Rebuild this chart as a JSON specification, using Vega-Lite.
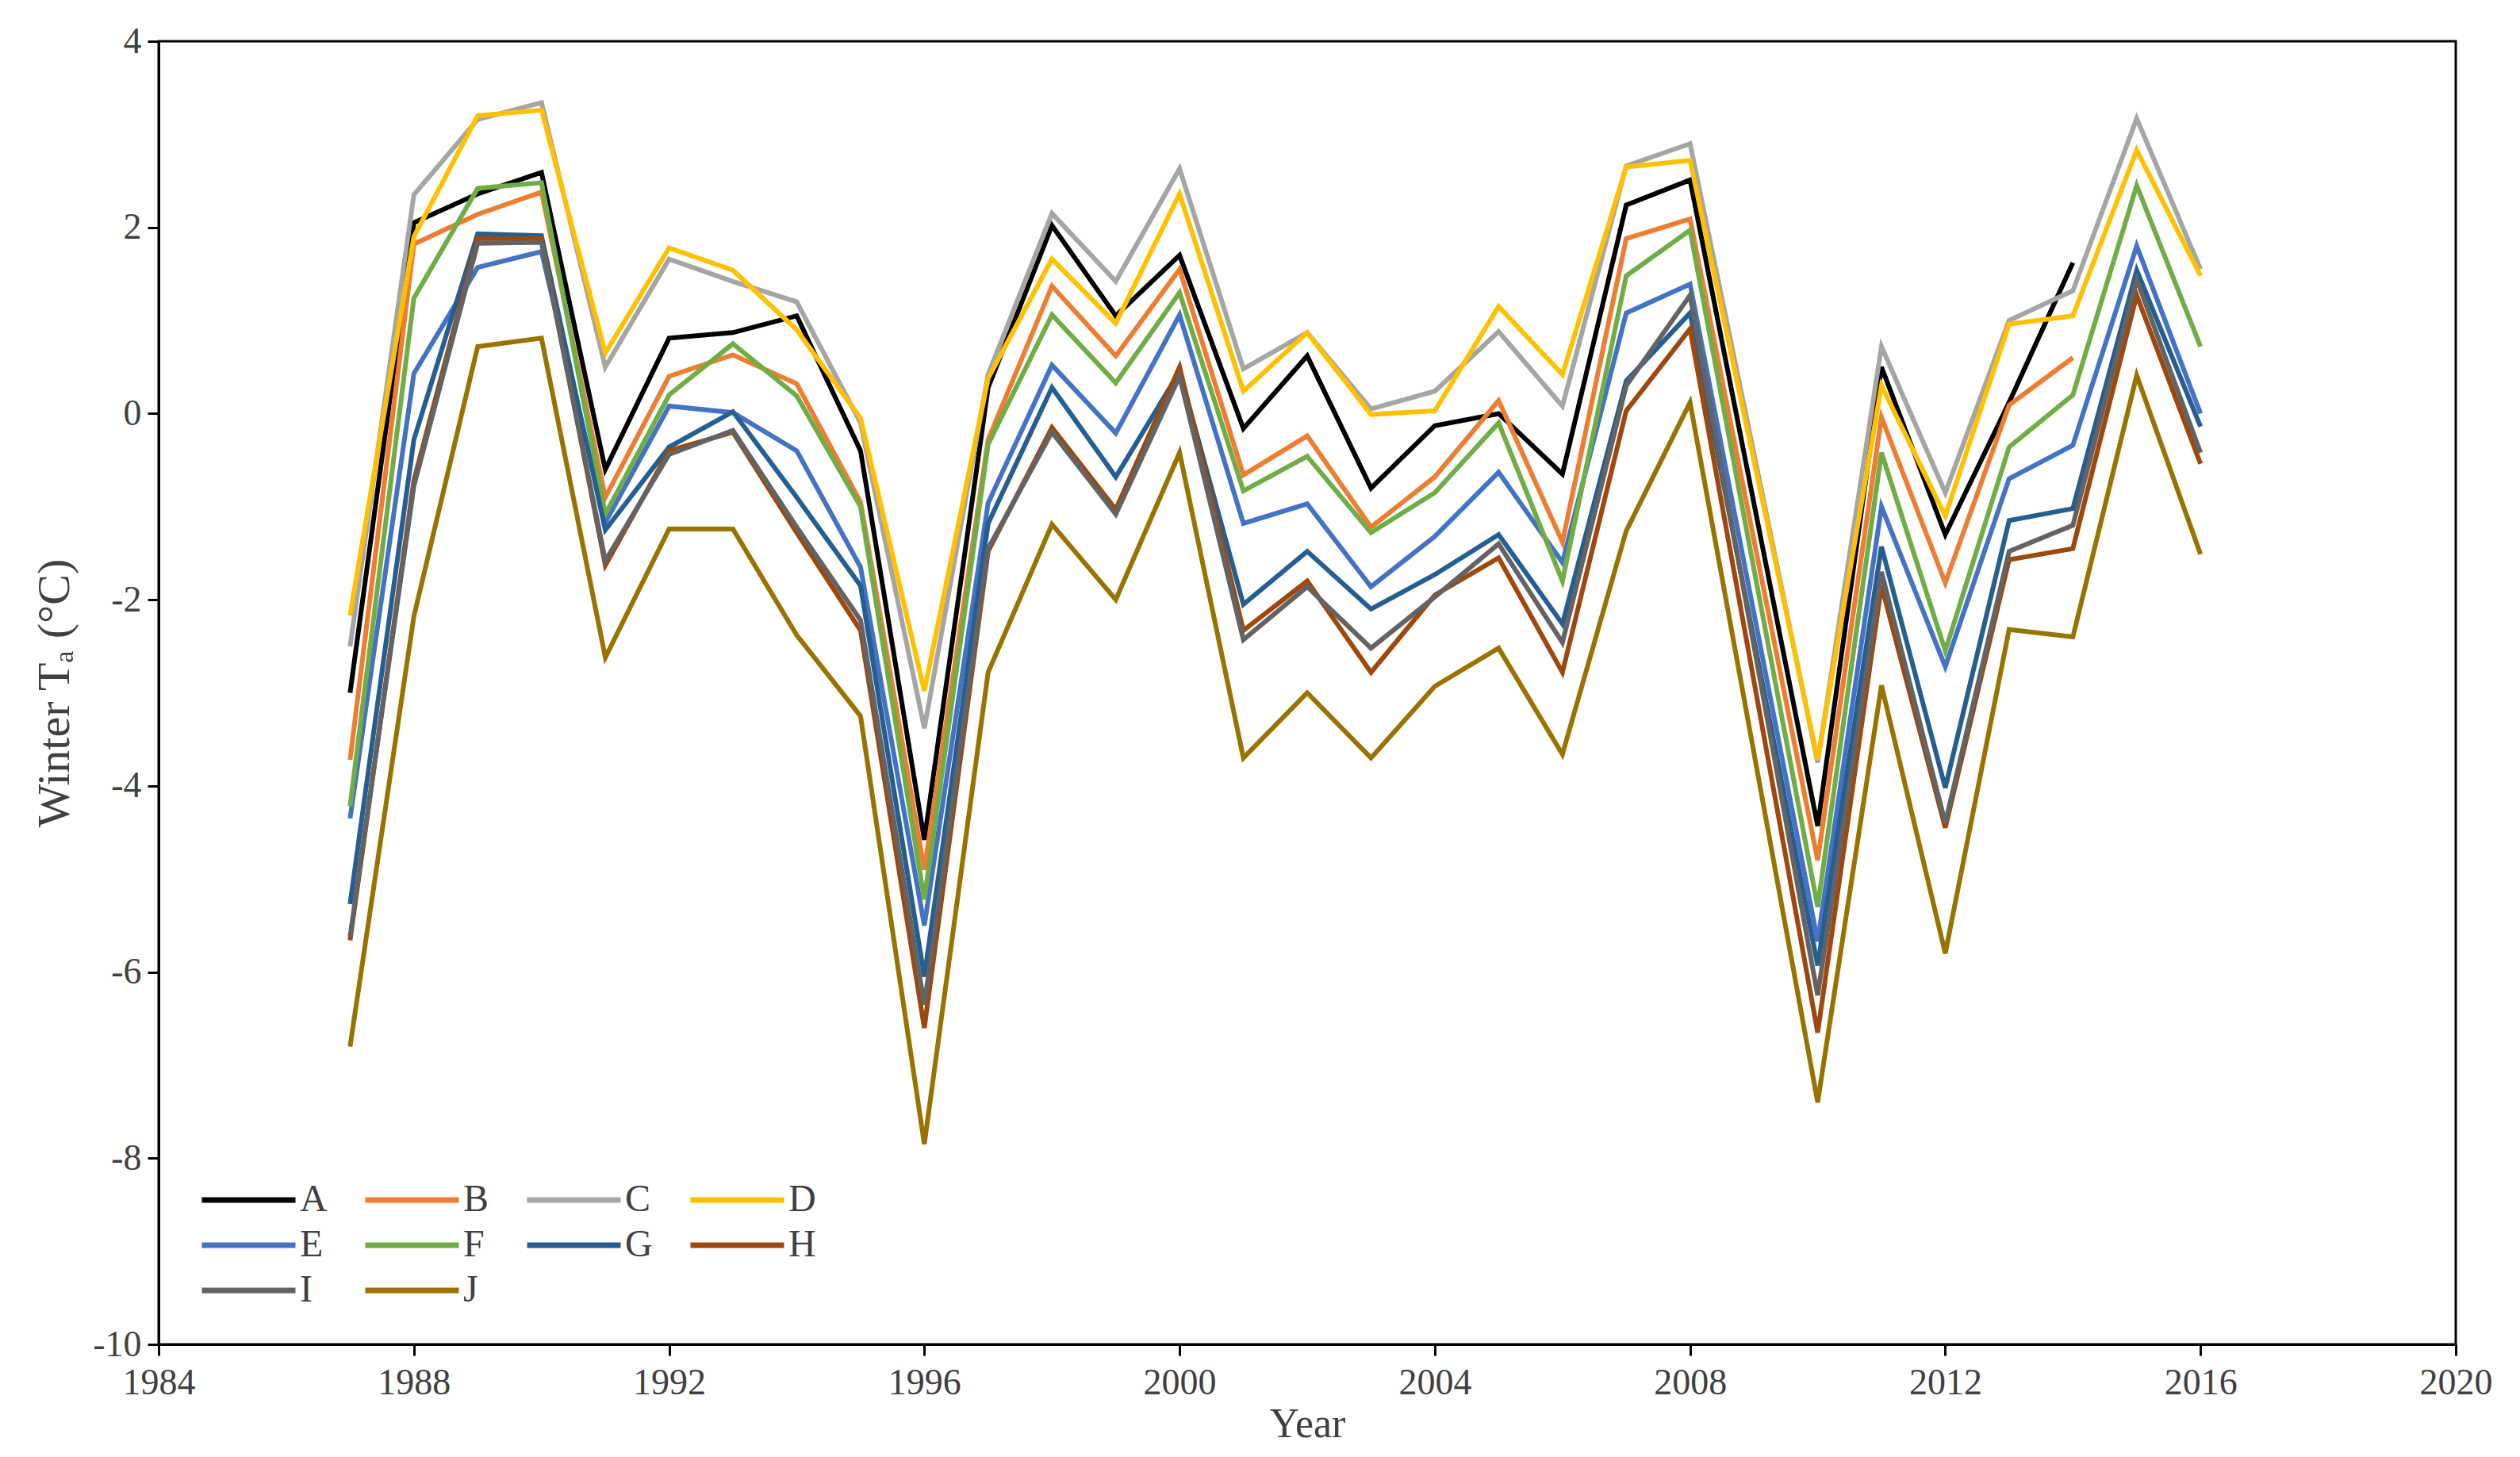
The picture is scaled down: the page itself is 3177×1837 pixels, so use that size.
{
  "$schema": "https://vega.github.io/schema/vega-lite/v6.json",
  "width": 2896,
  "height": 1643,
  "autosize": {"type": "none"},
  "padding": {"left": 200, "top": 52, "right": 81, "bottom": 142},
  "background": "white",
  "config": {
    "view": {"stroke": "black", "strokeWidth": 3},
    "font": "Liberation Serif",
    "axis": {
      "labelFont": "Liberation Serif",
      "titleFont": "Liberation Serif",
      "labelFontSize": 46,
      "titleFontSize": 52,
      "labelColor": "#404040",
      "titleColor": "#404040",
      "titleFontWeight": "normal",
      "domainColor": "black",
      "domainWidth": 3,
      "tickColor": "black",
      "tickWidth": 3,
      "tickSize": 14,
      "grid": false
    },
    "legend": {
      "labelFont": "Liberation Serif",
      "labelFontSize": 48,
      "labelColor": "#404040"
    }
  },
  "data": {
    "values": [
      {"Year": 1987, "A": -3.0, "B": -3.72, "C": -2.5, "D": -2.17, "E": -4.35, "F": -4.22, "G": -5.27, "H": -5.66, "I": -5.62, "J": -6.8},
      {"Year": 1988, "A": 2.05, "B": 1.82, "C": 2.35, "D": 1.9, "E": 0.43, "F": 1.24, "G": -0.28, "H": -0.72, "I": -0.78, "J": -2.18},
      {"Year": 1989, "A": 2.36, "B": 2.14, "C": 3.16, "D": 3.2, "E": 1.57, "F": 2.42, "G": 1.93, "H": 1.88, "I": 1.83, "J": 0.72},
      {"Year": 1990, "A": 2.59, "B": 2.38, "C": 3.34, "D": 3.26, "E": 1.74, "F": 2.48, "G": 1.91, "H": 1.88, "I": 1.84, "J": 0.81},
      {"Year": 1991, "A": -0.6, "B": -0.9, "C": 0.5, "D": 0.65, "E": -1.17, "F": -1.08, "G": -1.25, "H": -1.63, "I": -1.58, "J": -2.62},
      {"Year": 1992, "A": 0.81, "B": 0.4, "C": 1.66, "D": 1.78, "E": 0.08, "F": 0.2, "G": -0.36, "H": -0.4, "I": -0.44, "J": -1.24},
      {"Year": 1993, "A": 0.87, "B": 0.63, "C": 1.42, "D": 1.54, "E": 0.01, "F": 0.75, "G": 0.02, "H": -0.2, "I": -0.18, "J": -1.24},
      {"Year": 1994, "A": 1.05, "B": 0.32, "C": 1.2, "D": 0.9, "E": -0.4, "F": 0.19, "G": -0.9, "H": -1.28, "I": -1.22, "J": -2.38},
      {"Year": 1995, "A": -0.4, "B": -0.95, "C": -0.1, "D": -0.05, "E": -1.65, "F": -1.0, "G": -1.85, "H": -2.33, "I": -2.22, "J": -3.25},
      {"Year": 1996, "A": -4.58, "B": -4.9, "C": -3.38, "D": -2.98, "E": -5.5, "F": -5.22, "G": -6.05, "H": -6.6, "I": -6.35, "J": -7.85},
      {"Year": 1997, "A": 0.28, "B": -0.28, "C": 0.42, "D": 0.38, "E": -0.96, "F": -0.33, "G": -1.18, "H": -1.48, "I": -1.45, "J": -2.78},
      {"Year": 1998, "A": 2.02, "B": 1.37, "C": 2.15, "D": 1.66, "E": 0.52, "F": 1.06, "G": 0.28, "H": -0.15, "I": -0.2, "J": -1.19},
      {"Year": 1999, "A": 1.05, "B": 0.62, "C": 1.42, "D": 0.97, "E": -0.21, "F": 0.33, "G": -0.68, "H": -1.03, "I": -1.08, "J": -2.0},
      {"Year": 2000, "A": 1.7, "B": 1.55, "C": 2.63, "D": 2.36, "E": 1.06, "F": 1.3, "G": 0.45, "H": 0.5, "I": 0.4, "J": -0.42},
      {"Year": 2001, "A": -0.16, "B": -0.66, "C": 0.48, "D": 0.24, "E": -1.18, "F": -0.83, "G": -2.05, "H": -2.33, "I": -2.43, "J": -3.7},
      {"Year": 2002, "A": 0.62, "B": -0.24, "C": 0.87, "D": 0.87, "E": -0.97, "F": -0.46, "G": -1.48, "H": -1.8, "I": -1.86, "J": -3.0},
      {"Year": 2003, "A": -0.8, "B": -1.22, "C": 0.05, "D": -0.01, "E": -1.86, "F": -1.28, "G": -2.1, "H": -2.78, "I": -2.52, "J": -3.7},
      {"Year": 2004, "A": -0.13, "B": -0.68, "C": 0.24, "D": 0.03, "E": -1.32, "F": -0.85, "G": -1.73, "H": -1.95, "I": -1.97, "J": -2.93},
      {"Year": 2005, "A": 0.0, "B": 0.14, "C": 0.88, "D": 1.15, "E": -0.63, "F": -0.1, "G": -1.3, "H": -1.55, "I": -1.4, "J": -2.52},
      {"Year": 2006, "A": -0.65, "B": -1.38, "C": 0.08, "D": 0.42, "E": -1.6, "F": -1.8, "G": -2.26, "H": -2.78, "I": -2.46, "J": -3.66},
      {"Year": 2007, "A": 2.24, "B": 1.88, "C": 2.66, "D": 2.65, "E": 1.08, "F": 1.48, "G": 0.35, "H": 0.03, "I": 0.3, "J": -1.26},
      {"Year": 2008, "A": 2.51, "B": 2.09, "C": 2.9, "D": 2.72, "E": 1.39, "F": 1.97, "G": 1.08, "H": 0.91, "I": 1.27, "J": 0.12},
      {"Year": 2010, "A": -4.43, "B": -4.8, "C": -3.75, "D": -3.72, "E": -5.67, "F": -5.3, "G": -5.93, "H": -6.65, "I": -6.25, "J": -7.4},
      {"Year": 2011, "A": 0.5, "B": -0.04, "C": 0.72, "D": 0.3, "E": -1.0, "F": -0.42, "G": -1.43, "H": -1.85, "I": -1.7, "J": -2.92},
      {"Year": 2012, "A": -1.3, "B": -1.82, "C": -0.85, "D": -1.1, "E": -2.72, "F": -2.55, "G": -4.02, "H": -4.45, "I": -4.4, "J": -5.8},
      {"Year": 2013, "A": 0.12, "B": 0.09, "C": 1.0, "D": 0.96, "E": -0.7, "F": -0.36, "G": -1.15, "H": -1.57, "I": -1.48, "J": -2.32},
      {"Year": 2014, "A": 1.62, "B": 0.6, "C": 1.32, "D": 1.05, "E": -0.34, "F": 0.2, "G": -1.02, "H": -1.45, "I": -1.2, "J": -2.4},
      {"Year": 2015, "A": null, "B": null, "C": 3.17, "D": 2.83, "E": 1.8, "F": 2.45, "G": 1.54, "H": 1.27, "I": 1.44, "J": 0.41},
      {"Year": 2016, "A": null, "B": null, "C": 1.55, "D": 1.48, "E": 0.0, "F": 0.72, "G": -0.14, "H": -0.54, "I": -0.42, "J": -1.51}
    ]
  },
  "transform": [
    {"fold": ["A", "B", "C", "D", "E", "F", "G", "H", "I", "J"], "as": ["Series", "Value"]},
    {"filter": "datum.Value != null"}
  ],
  "mark": {"type": "line", "strokeWidth": 6, "strokeJoin": "miter", "strokeCap": "butt"},
  "encoding": {
    "x": {
      "field": "Year",
      "type": "quantitative",
      "scale": {"domain": [1984, 2020], "nice": false, "zero": false},
      "axis": {
        "values": [1984, 1988, 1992, 1996, 2000, 2004, 2008, 2012, 2016, 2020],
        "format": "d",
        "title": "Year",
        "labelPadding": 12,
        "titlePadding": 4,
        "labelFlush": false
      }
    },
    "y": {
      "field": "Value",
      "type": "quantitative",
      "scale": {"domain": [-10, 4], "nice": false, "zero": false},
      "axis": {
        "values": [-10, -8, -6, -4, -2, 0, 2, 4],
        "labelExpr": "'' + datum.value",
        "title": "Winter Tₐ (°C)",
        "titleFontSize": 58,
        "labelPadding": 8,
        "titlePadding": 18
      }
    },
    "color": {
      "field": "Series",
      "type": "nominal",
      "scale": {
        "domain": ["A", "B", "C", "D", "E", "F", "G", "H", "I", "J"],
        "range": ["#000000", "#ED7D31", "#A5A5A5", "#FFC000", "#4472C4", "#70AD47", "#255E91", "#9E480E", "#636363", "#997300"]
      },
      "legend": {
        "title": null,
        "orient": "none",
        "direction": "horizontal",
        "legendX": 51,
        "legendY": 1428,
        "columns": 4,
        "symbolType": "M-1,0H3",
        "symbolSize": 3481,
        "symbolStrokeWidth": 7,
        "symbolFillColor": "transparent",
        "labelOffset": 61,
        "columnPadding": 33,
        "rowPadding": -9,
        "padding": 0
      }
    }
  }
}
